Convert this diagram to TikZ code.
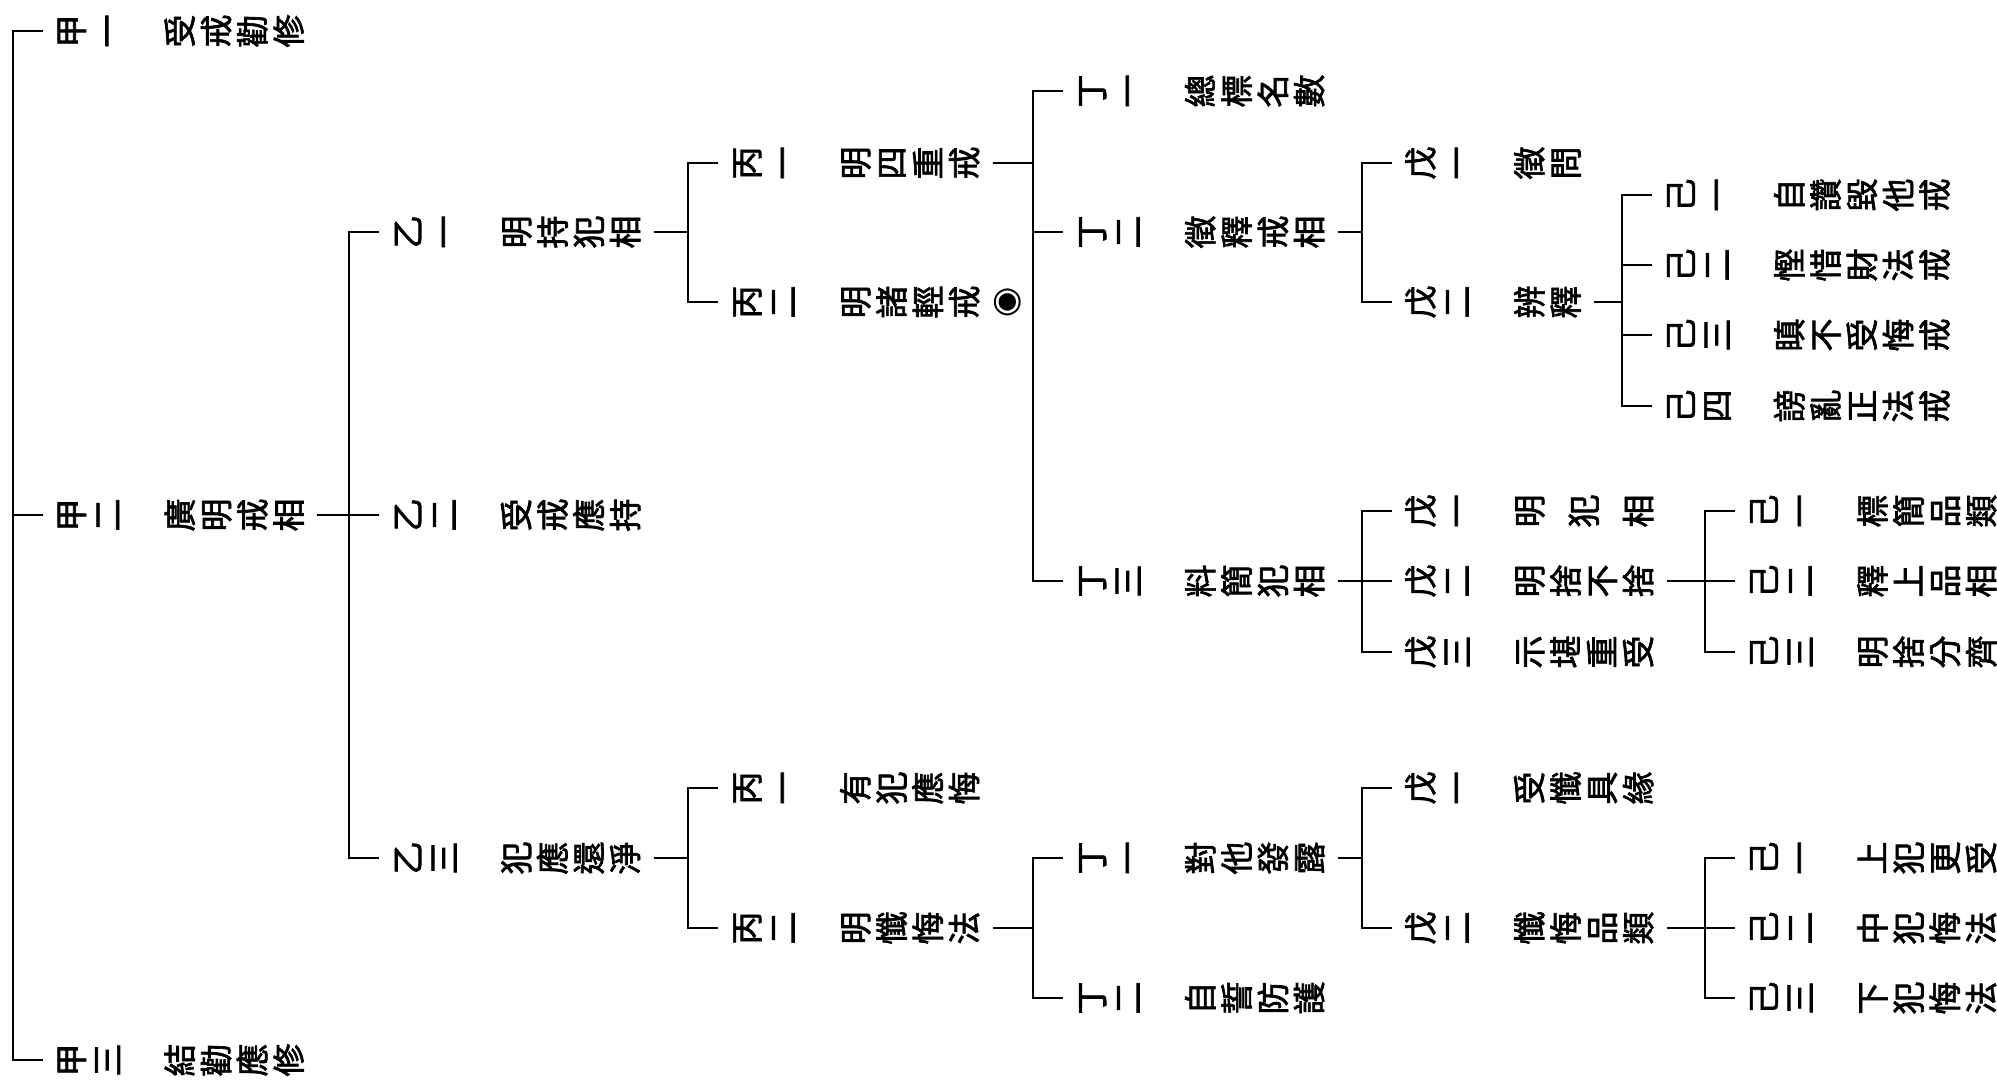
\documentclass[tikz,border=0pt]{standalone}
\usepackage{fontspec}
\usepackage{graphicx}
\newfontfamily\cjk[RawFeature={embolden=2.0}]{Noto Sans CJK TC}
\newfontfamily\djv{DejaVu Sans}
\newlength\pitch \setlength\pitch{36.3pt}
\makeatletter
\def\vt#1{\vt@#1\@nil}
\def\vt@#1{\ifx#1\@nil\else\vt@one{#1}\expandafter\vt@\fi}
\def\vt@one#1{\ifx#1|\hskip.5\pitch\else\hbox to\pitch{\hss\rotatebox[origin=c]{90}{\vrule height .88em depth .12em width 0pt\relax #1}\hss}\fi}
\makeatother
\tikzset{
  ent/.style={anchor=west, inner xsep=10pt, inner ysep=0pt, font={\cjk\fontsize{33}{36}\selectfont}},
  ln/.style={line width=2pt}
}
\begin{document}
\begin{tikzpicture}[x=1pt,y=-1pt]
\useasboundingbox (0,0) rectangle (1997,1089);
% bracket columns
\coordinate (bA) at (12.5,0);
\coordinate (bB) at (349,0);
\coordinate (bC) at (688,0);
\coordinate (bD) at (1033,0);
\coordinate (bE) at (1362,0);
\coordinate (bF) at (1622,0);
\coordinate (bG) at (1705,0);
% level 甲
\node[ent] (A1) at (42.5,31)  {\vt{甲一　受戒勸修}};
\node[ent] (A2) at (42.5,515) {\vt{甲二　廣明戒相}};
\node[ent] (A3) at (42.5,1060){\vt{甲三　結勸應修}};
% level 乙
\node[ent] (B1) at (379,232) {\vt{乙一　明持犯相}};
\node[ent] (B2) at (379,515) {\vt{乙二　受戒應持}};
\node[ent] (B3) at (379,858) {\vt{乙三　犯應還淨}};
% level 丙
\node[ent] (C1) at (718,163) {\vt{丙一　明四重戒}};
\node[ent] (C2) at (718,302) {\vt{丙二　明諸輕戒}};
\node[anchor=west, inner sep=0pt, font={\djv\fontsize{35}{35}\selectfont}] (MK) at ([xshift=0pt]C2.east) {◉};
\node[ent] (C3) at (718,788) {\vt{丙一　有犯應悔}};
\node[ent] (C4) at (718,928) {\vt{丙二　明懺悔法}};
% level 丁
\node[ent] (D1) at (1063,91)  {\vt{丁一　總標名數}};
\node[ent] (D2) at (1063,232) {\vt{丁二　徵釋戒相}};
\node[ent] (D3) at (1063,581) {\vt{丁三　料簡犯相}};
\node[ent] (D4) at (1063,858) {\vt{丁一　對他發露}};
\node[ent] (D5) at (1063,998) {\vt{丁二　自誓防護}};
% level 戊
\node[ent] (E1) at (1392,163) {\vt{戊一　徵問}};
\node[ent] (E2) at (1392,302) {\vt{戊二　辨釋}};
\node[ent] (E3) at (1392,511) {\vt{戊一　明|犯|相}};
\node[ent] (E4) at (1392,581) {\vt{戊二　明捨不捨}};
\node[ent] (E5) at (1392,652) {\vt{戊三　示堪重受}};
\node[ent] (E6) at (1392,788) {\vt{戊一　受懺具緣}};
\node[ent] (E7) at (1392,928) {\vt{戊二　懺悔品類}};
% level 己
\node[ent] (F1) at (1652,195) {\vt{己一　自讚毀他戒}};
\node[ent] (F2) at (1652,265) {\vt{己二　慳惜財法戒}};
\node[ent] (F3) at (1652,335) {\vt{己三　瞋不受悔戒}};
\node[ent] (F4) at (1652,406) {\vt{己四　謗亂正法戒}};
\node[ent] (G1) at (1735,511) {\vt{己一　標簡品類}};
\node[ent] (G2) at (1735,581) {\vt{己二　釋上品相}};
\node[ent] (G3) at (1735,652) {\vt{己三　明捨分齊}};
\node[ent] (G4) at (1735,858) {\vt{己一　上犯更受}};
\node[ent] (G5) at (1735,928) {\vt{己二　中犯悔法}};
\node[ent] (G6) at (1735,998) {\vt{己三　下犯悔法}};
% connectors
\begin{scope}[ln]
\draw (A1.west) -- (A1.west -| bA) -- (A3.west -| bA) -- (A3.west);
\draw (A2.west) -- (A2.west -| bA);
\draw (A2.east) -- (A2.east -| bB);
\draw (B1.west) -- (B1.west -| bB) -- (B3.west -| bB) -- (B3.west);
\draw (B2.west) -- (B2.west -| bB);
\draw (B1.east) -- (B1.east -| bC);
\draw (C1.west) -- (C1.west -| bC) -- (C2.west -| bC) -- (C2.west);
\draw (B3.east) -- (B3.east -| bC);
\draw (C3.west) -- (C3.west -| bC) -- (C4.west -| bC) -- (C4.west);
\draw (C1.east) -- (C1.east -| bD);
\draw (D1.west) -- (D1.west -| bD) -- (D3.west -| bD) -- (D3.west);
\draw (D2.west) -- (D2.west -| bD);
\draw (C4.east) -- (C4.east -| bD);
\draw (D4.west) -- (D4.west -| bD) -- (D5.west -| bD) -- (D5.west);
\draw (D2.east) -- (D2.east -| bE);
\draw (E1.west) -- (E1.west -| bE) -- (E2.west -| bE) -- (E2.west);
\draw (D3.east) -- (D3.east -| bE);
\draw (E3.west) -- (E3.west -| bE) -- (E5.west -| bE) -- (E5.west);
\draw (E4.west) -- (E4.west -| bE);
\draw (D4.east) -- (D4.east -| bE);
\draw (E6.west) -- (E6.west -| bE) -- (E7.west -| bE) -- (E7.west);
\draw (E2.east) -- (E2.east -| bF);
\draw (F1.west) -- (F1.west -| bF) -- (F4.west -| bF) -- (F4.west);
\draw (F2.west) -- (F2.west -| bF);
\draw (F3.west) -- (F3.west -| bF);
\draw (E4.east) -- (E4.east -| bG);
\draw (G1.west) -- (G1.west -| bG) -- (G3.west -| bG) -- (G3.west);
\draw (G2.west) -- (G2.west -| bG);
\draw (E7.east) -- (E7.east -| bG);
\draw (G4.west) -- (G4.west -| bG) -- (G6.west -| bG) -- (G6.west);
\draw (G5.west) -- (G5.west -| bG);
\end{scope}
\end{tikzpicture}
\end{document}
